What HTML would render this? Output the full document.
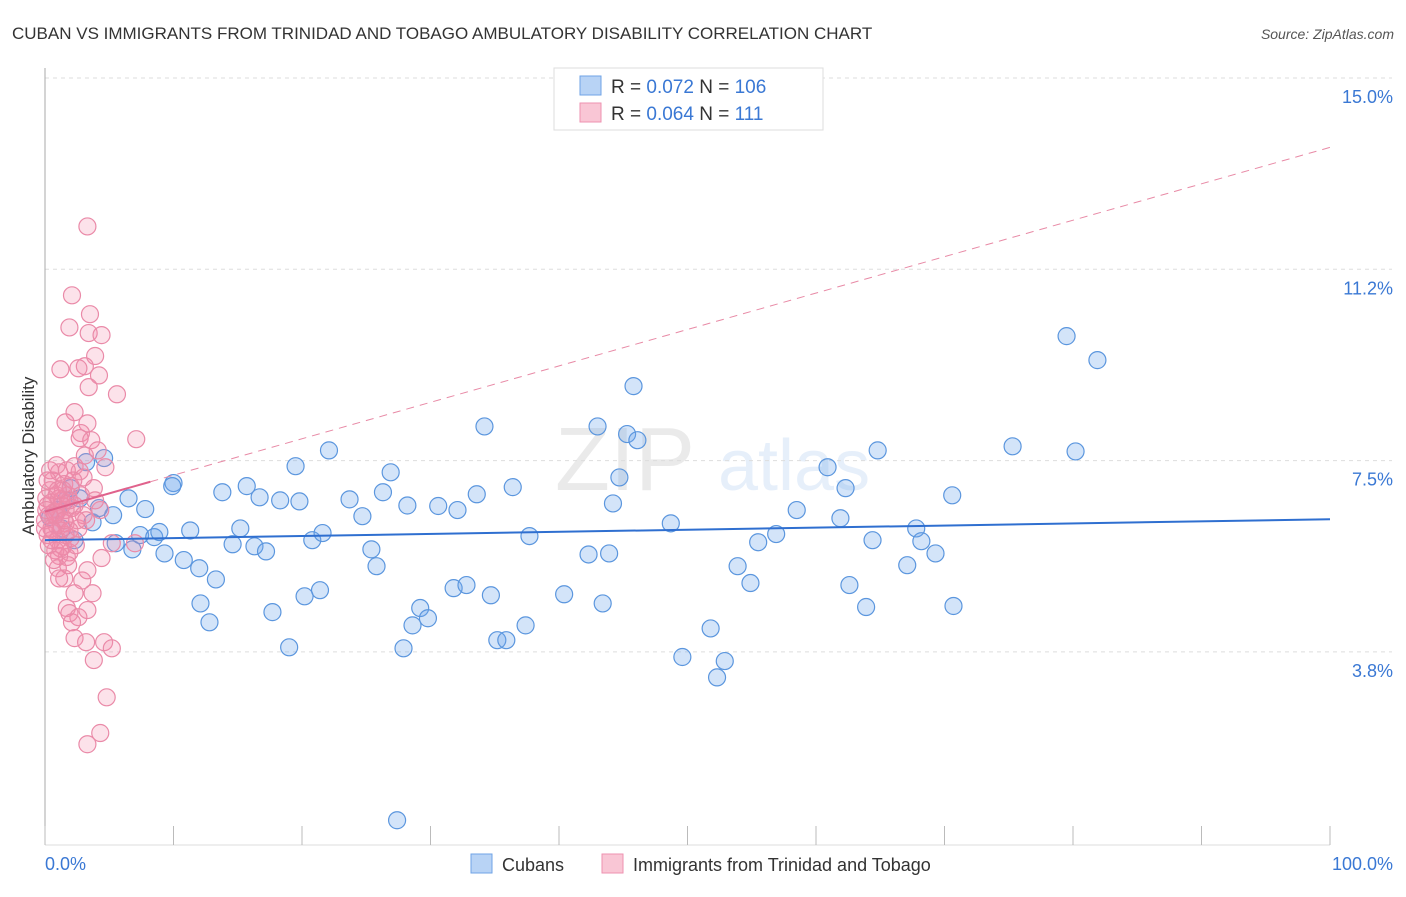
<!DOCTYPE html>
<html><head><meta charset="utf-8"><style>
body{margin:0;background:#fff;font-family:"Liberation Sans",sans-serif;}
svg text{font-family:"Liberation Sans",sans-serif;}
</style></head><body>
<svg id="chart" width="1406" height="892" xmlns="http://www.w3.org/2000/svg">
<text x="12" y="39" font-size="17" fill="#333">CUBAN VS IMMIGRANTS FROM TRINIDAD AND TOBAGO AMBULATORY DISABILITY CORRELATION CHART</text>
<text x="1394" y="39" font-size="14" fill="#555" text-anchor="end" font-style="italic">Source: ZipAtlas.com</text>
<text transform="translate(34,456) rotate(-90)" font-size="17" fill="#333" text-anchor="middle">Ambulatory Disability</text>
<g opacity="0.13"><text x="555" y="490" font-size="90" font-family="Liberation Serif" fill="#666">ZIP</text><text x="718" y="490" font-size="72" fill="#4a8ae0">atlas</text></g>
<g id="grid"></g><g id="axes"></g><g id="trend"></g><g id="pts"></g>
<g>
<rect x="554" y="68" width="269" height="62" fill="#fff" stroke="#ddd"/>
<rect x="580" y="76" width="21" height="19" fill="#b8d3f5" stroke="#6fa3e6"/>
<rect x="580" y="103" width="21" height="19" fill="#f9c6d5" stroke="#ee92b0"/>
<text x="611" y="93" font-size="19" fill="#333">R = <tspan fill="#3a78d4">0.072</tspan>   N = <tspan fill="#3a78d4">106</tspan></text>
<text x="611" y="120" font-size="19" fill="#333">R = <tspan fill="#3a78d4">0.064</tspan>   N = <tspan fill="#3a78d4">  111</tspan></text>
</g>
<g>
<rect x="471" y="854" width="21" height="19" fill="#b8d3f5" stroke="#6fa3e6"/>
<text x="502" y="871" font-size="18" fill="#333">Cubans</text>
<rect x="602" y="854" width="21" height="19" fill="#f9c6d5" stroke="#ee92b0"/>
<text x="633" y="871" font-size="18" fill="#333">Immigrants from Trinidad and Tobago</text>
</g>
</svg>
<script>
const yTicks=[15.0,11.25,7.5,3.75];
const yTickLabels=["15.0%","11.2%","7.5%","3.8%"];
const xTickVals=[0,10,20,30,40,50,60,70,80,90,100];
const cubanX=[79.5,81.9,45.8,34.2,43.0,45.3,46.1,64.8,75.3,80.2,22.1,19.5,26.9,44.7,60.9,62.3,70.6,36.4,33.6,26.3,15.7,13.8,16.7,18.3,19.8,23.7,28.2,30.6,32.1,24.7,44.2,58.5,48.7,61.9,67.8,68.2,69.3,64.4,56.9,55.5,37.7,42.3,43.9,25.4,25.8,20.8,21.6,15.2,14.6,16.3,17.2,11.3,9.3,10.8,12.0,13.3,12.1,12.8,17.7,19.0,20.2,21.4,27.9,28.6,29.2,29.8,31.8,32.8,34.7,35.2,35.9,37.4,40.4,43.4,51.8,49.6,52.9,52.3,53.9,54.9,62.6,63.9,70.7,67.1,27.4,10.0,9.9,7.8,6.5,5.3,3.7,4.2,2.7,2.0,1.6,1.0,0.4,3.2,4.6,5.5,6.8,7.4,8.5,8.9,1.3,2.3];
const cubanY=[9.94,9.47,8.96,8.17,8.17,8.02,7.90,7.70,7.78,7.68,7.70,7.39,7.27,7.17,7.37,6.96,6.82,6.98,6.84,6.88,7.00,6.88,6.78,6.72,6.70,6.74,6.62,6.61,6.53,6.41,6.66,6.53,6.27,6.37,6.17,5.92,5.68,5.94,6.06,5.90,6.02,5.66,5.68,5.76,5.43,5.94,6.08,6.17,5.86,5.82,5.72,6.13,5.68,5.55,5.39,5.17,4.70,4.33,4.53,3.84,4.84,4.96,3.82,4.27,4.61,4.41,5.00,5.06,4.86,3.98,3.98,4.27,4.88,4.70,4.21,3.65,3.57,3.25,5.43,5.10,5.06,4.63,4.65,5.45,0.45,7.06,7.00,6.55,6.76,6.43,6.29,6.57,6.76,6.96,6.72,6.53,6.39,7.47,7.55,5.88,5.76,6.04,6.00,6.10,6.17,5.94];
const trinX=[3.3,2.1,3.5,1.9,3.4,4.4,3.9,3.1,1.2,2.6,4.2,3.4,5.6,2.3,3.3,1.6,2.8,2.7,3.6,7.1,4.1,0.9,2.3,2.7,4.7,3.0,1.1,3.8,1.5,2.0,0.4,0.9,1.3,0.2,0.7,1.2,1.6,0.5,0.0,0.2,1.0,1.4,1.9,1.7,1.1,2.3,3.0,2.6,2.1,1.8,0.6,0.4,0.1,0.9,1.6,1.2,0.3,0.8,2.0,2.8,3.2,4.3,5.2,7.0,4.4,1.0,1.8,2.9,1.5,1.1,3.3,2.3,1.7,1.9,2.6,3.7,3.3,2.1,2.3,3.2,4.6,5.2,3.8,4.8,4.3,3.3,1.2,0.9,0.5,1.4,0.3,0.0,1.6,2.5,0.7,1.9,1.3,0.2,1.1,2.2,3.9,0.1,0.5,1.7,3.1,0.8,1.5,0.6,1.9,1.0,2.4];
const trinY=[12.09,10.74,10.37,10.11,10.0,9.96,9.55,9.35,9.29,9.31,9.17,8.94,8.80,8.45,8.23,8.25,8.04,7.94,7.90,7.92,7.70,7.41,7.39,7.29,7.37,7.17,7.27,6.96,7.04,7.00,6.92,6.82,6.72,6.62,6.49,6.37,6.27,6.17,6.33,6.04,5.94,5.82,5.70,5.61,5.63,6.62,6.43,6.17,6.57,6.82,7.11,7.31,6.76,6.23,6.53,6.13,5.84,5.74,5.98,6.82,6.33,6.53,5.88,5.88,5.59,5.39,5.45,5.15,5.19,5.19,5.35,4.90,4.61,4.51,4.43,4.90,4.57,4.33,4.02,3.94,3.94,3.82,3.59,2.86,2.16,1.94,5.78,6.49,6.68,6.92,6.43,6.17,6.04,6.33,5.55,6.13,6.62,7.11,6.76,7.11,6.72,6.53,5.94,7.31,7.60,6.43,6.33,6.13,6.72,6.92,5.84];
const cubanTrend=[5.94,6.35];
const trinTrend=[6.5,13.64];
const trinSolidEnd=8.2;

const NS="http://www.w3.org/2000/svg";
const X0=45,X1=1330,Y15=78,PX_PER=191.3/3.75;
const xs=v=>X0+(X1-X0)*v/100;
const ys=v=>Y15+(15-v)*PX_PER;
function mk(tag,attrs,parent){const e=document.createElementNS(NS,tag);for(const k in attrs)e.setAttribute(k,attrs[k]);document.getElementById(parent).appendChild(e);return e;}
yTicks.forEach((t,i)=>{
  const l=mk('line',{x1:X0,x2:1392,y1:ys(t),y2:ys(t),stroke:'#ddd','stroke-dasharray':'4,4'},'grid');
  
  
  const tx=mk('text',{x:1393,y:ys(t)+25,'font-size':18,fill:'#3a78d4','text-anchor':'end'},'grid');
  tx.textContent=yTickLabels[i];
  
  
});
const ax=mk('line',{x1:X0,x2:X0,y1:68,y2:845,stroke:'#aaa'},'axes');


const bx=mk('line',{x1:X0,x2:X1,y1:845,y2:845,stroke:'#ddd'},'axes');


xTickVals.forEach(v=>{
  const t=mk('line',{x1:xs(v),x2:xs(v),y1:826,y2:845,stroke:'#bbb'},'axes');
  
  
});
const xl0=mk('text',{x:45,y:870,'font-size':18,fill:'#3a78d4'},'axes');xl0.textContent='0.0%';


const xl1=mk('text',{x:1393,y:870,'font-size':18,fill:'#3a78d4','text-anchor':'end'},'axes');xl1.textContent='100.0%';



cubanX.forEach((x,i)=>{
  const c=mk('circle',{cx:xs(x),cy:ys(cubanY[i]),r:8.5,fill:'rgba(110,165,235,0.3)',stroke:'#5b96de','stroke-width':1.2},'pts');
  
  
});
trinX.forEach((x,i)=>{
  const c=mk('circle',{cx:xs(x),cy:ys(trinY[i]),r:8.5,fill:'rgba(242,140,170,0.25)',stroke:'#ea8aa8','stroke-width':1.2},'pts');
  
  
});
const tb=mk('line',{x1:xs(0),y1:ys(cubanTrend[0]),x2:xs(100),y2:ys(cubanTrend[1]),stroke:'#2f6fd0','stroke-width':2},'pts');


const ty=v=>trinTrend[0]+(trinTrend[1]-trinTrend[0])*v/100;
const td=mk('line',{x1:xs(trinSolidEnd),y1:ys(ty(trinSolidEnd)),x2:xs(100),y2:ys(trinTrend[1]),stroke:'#e88aa6','stroke-width':1,'stroke-dasharray':'8,6'},'pts');


const ts=mk('line',{x1:xs(0),y1:ys(trinTrend[0]),x2:xs(trinSolidEnd),y2:ys(ty(trinSolidEnd)),stroke:'#e0628c','stroke-width':2},'pts');


</script>
</body></html>
